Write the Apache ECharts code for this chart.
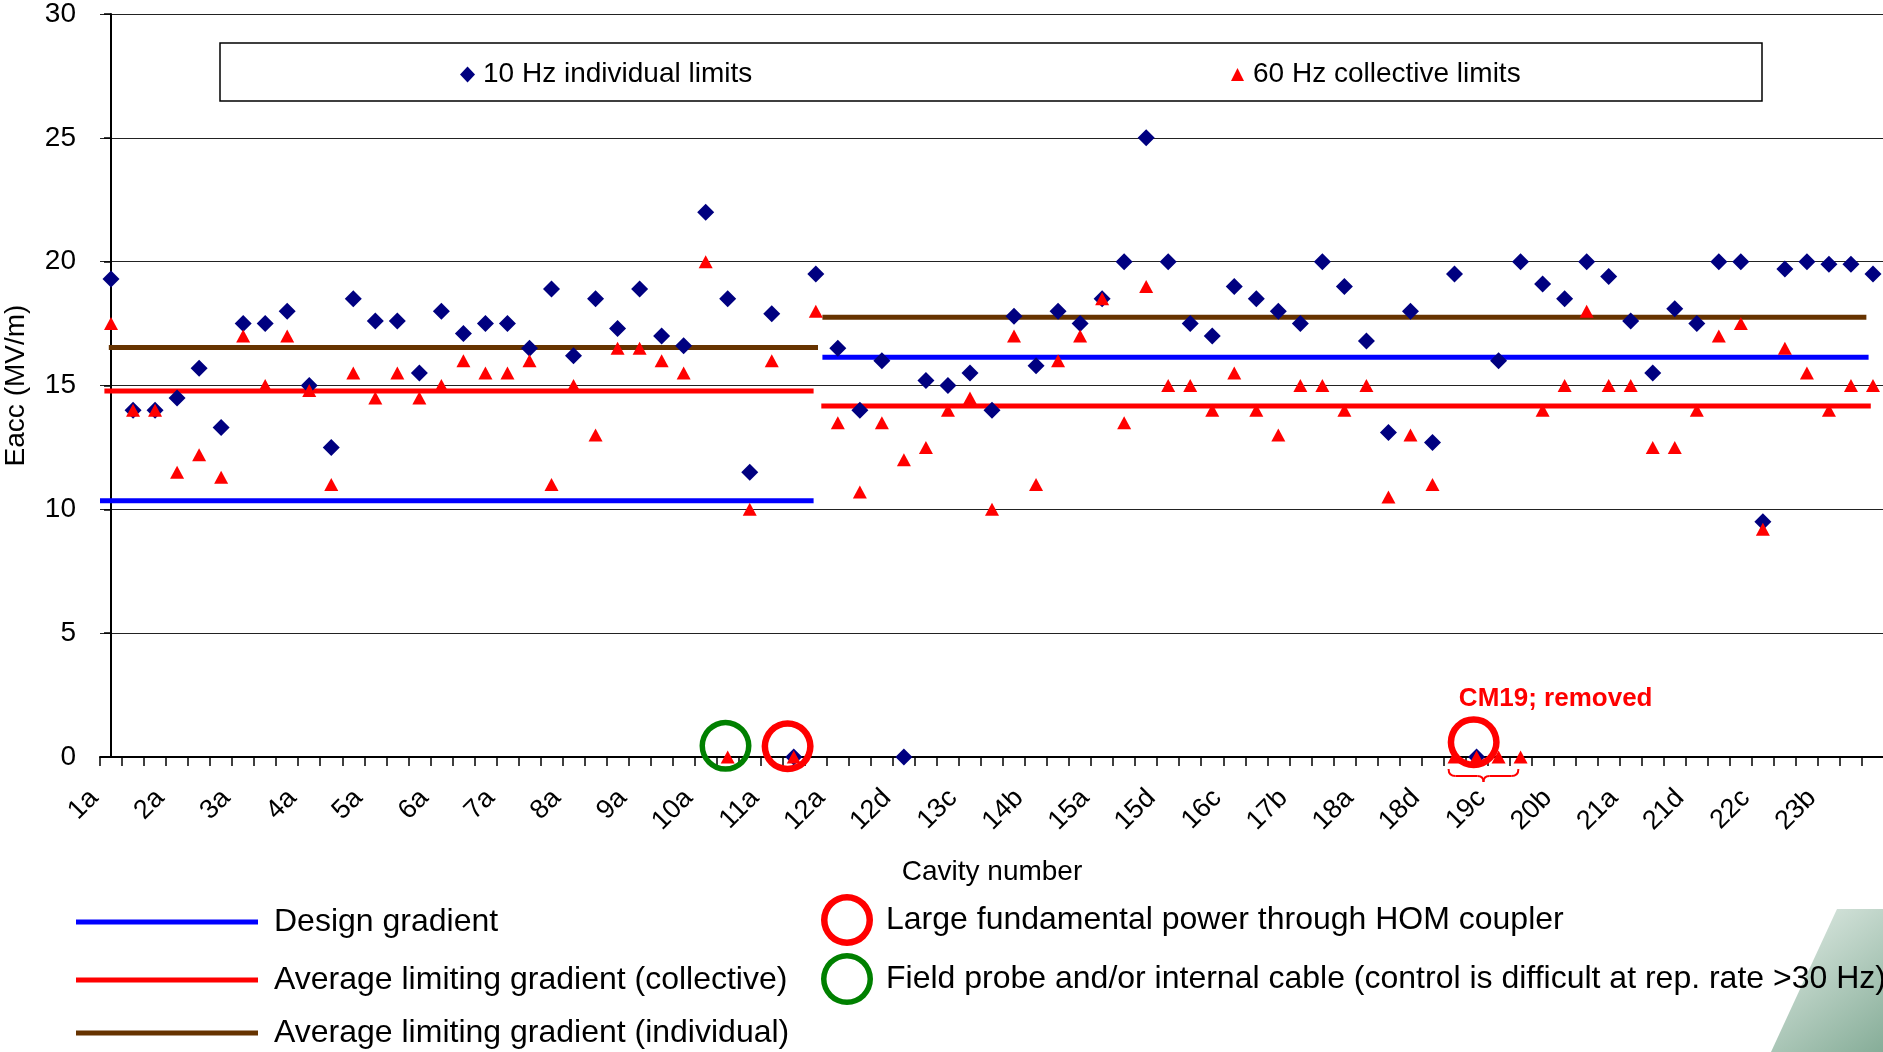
<!DOCTYPE html>
<html><head><meta charset="utf-8">
<script src="https://cdn.jsdelivr.net/npm/echarts@6/dist/echarts.min.js"></script>
<style>html,body{margin:0;padding:0;background:#fff}#c{width:1883px;height:1052px}</style>
</head><body><div id="c"></div>
<script>
// ---------------- data ----------------
const categories = [
 '1a','1b','1c','2a','2b','2c','3a','3b','3c','4a','4b','4c','5a','5b','5c','6a','6b','6c',
 '7a','7b','7c','8a','8b','8c','9a','9b','9c','10a','10b','10c','11a','11b','11c',
 '12a','12b','12c','12d','13a','13b','13c','13d','14a','14b','14c','14d','15a','15b','15c','15d',
 '16a','16b','16c','16d','17a','17b','17c','17d','18a','18b','18c','18d','19a','19b','19c','19d',
 '20a','20b','20c','20d','21a','21b','21c','21d','22a','22b','22c','22d','23a','23b','23c','23d'];
const individual10Hz = [
 19.3,14.0,14.0,14.5,15.7,13.3,17.5,17.5,18.0,15.0,12.5,18.5,17.6,17.6,15.5,18.0,17.1,17.5,
 17.5,16.5,18.9,16.2,18.5,17.3,18.9,17.0,16.6,22.0,18.5,11.5,17.9,0,19.5,
 16.5,14.0,16.0,0,15.2,15.0,15.5,14.0,17.8,15.8,18.0,17.5,18.5,20.0,25.0,20.0,
 17.5,17.0,19.0,18.5,18.0,17.5,20.0,19.0,16.8,13.1,18.0,12.7,19.5,0,16.0,20.0,
 19.1,18.5,20.0,19.4,17.6,15.5,18.1,17.5,20.0,20.0,9.5,19.7,20.0,19.9,19.9,19.5];
const collective60Hz = [
 17.5,14.0,14.0,11.5,12.2,11.3,17.0,15.0,17.0,14.8,11.0,15.5,14.5,15.5,14.5,15.0,16.0,15.5,
 15.5,16.0,11.0,15.0,13.0,16.5,16.5,16.0,15.5,20.0,0,10.0,16.0,0,18.0,
 13.5,10.7,13.5,12.0,12.5,14.0,14.5,10.0,17.0,11.0,16.0,17.0,18.5,13.5,19.0,15.0,
 15.0,14.0,15.5,14.0,13.0,15.0,15.0,14.0,15.0,10.5,13.0,11.0,0,0,0,0,
 14.0,15.0,18.0,15.0,15.0,12.5,12.5,14.0,17.0,17.5,9.2,16.5,15.5,14.0,15.0,15.0];
// average lines: [start position, end position, value] (positions in category units)
const designGradient = [[-0.5, 31.9, 10.35], [32.3, 79.8, 16.14]];
const avgCollective  = [[-0.3, 31.9, 14.78], [32.25, 79.9, 14.17]];
const avgIndividual  = [[-0.1, 32.1, 16.53], [32.3, 79.7, 17.76]];
// annotation circles [position, value]
const homCircles   = [[30.72, 0.43], [61.87, 0.6]];
const probeCircles = [[27.9, 0.45]];
const cm19Range = [60.73, 63.9];
const yTicks = {min: 0, max: 30, interval: 5};
const lineLegendNames = ['Design gradient', 'Average limiting gradient (collective)', 'Average limiting gradient (individual)'];

// ---------------- chart ----------------
const FONT = '"Liberation Sans", Arial, sans-serif';
const chart = echarts.init(document.getElementById('c'), null, {renderer: 'canvas'});

function segSeries(name, segs, color) {
  return segs.map(s => ({
    type: 'line', name: name, xAxisIndex: 1, yAxisIndex: 0,
    data: [[s[0], s[2]], [s[1], s[2]]],
    symbol: 'none', color: color, silent: true, z: 2,
    lineStyle: {width: 5, color: color, opacity: 1}
  }));
}
function ring(outer, inner) {
  return 'path://M0,' + (-outer) + 'A' + outer + ',' + outer + ' 0 1,1 0,' + outer +
          'A' + outer + ',' + outer + ' 0 1,1 0,' + (-outer) + 'Z' +
          'M0,' + (-inner) + 'A' + inner + ',' + inner + ' 0 1,0 0,' + inner +
         'A' + inner + ',' + inner + ' 0 1,0 0,' + (-inner) + 'Z';
}

const series = [
  {type: 'scatter', name: '10 Hz individual limits', xAxisIndex: 0, yAxisIndex: 0,
   data: individual10Hz, symbol: 'diamond', symbolSize: [17, 17],
   itemStyle: {color: '#000080', opacity: 1}, z: 3},
  {type: 'scatter', name: '60 Hz collective limits', xAxisIndex: 0, yAxisIndex: 0,
   data: collective60Hz, symbol: 'triangle', symbolSize: [14, 13],
   itemStyle: {color: '#ff0000', opacity: 1}, z: 3},
  ...segSeries(lineLegendNames[0], designGradient, '#0000ff'),
  ...segSeries(lineLegendNames[1], avgCollective, '#ff0000'),
  ...segSeries(lineLegendNames[2], avgIndividual, '#663300'),
  {type: 'scatter', name: 'Large fundamental power through HOM coupler', xAxisIndex: 1, yAxisIndex: 0,
   data: homCircles.map((p, i) => i === 1 ? {value: p, label: {
       show: true, position: 'top', distance: 5, offset: [82, 1],
       formatter: 'CM19; removed', color: '#ff0000', fontFamily: FONT, fontSize: 26, fontWeight: 'bold'}} : p),
   symbol: ring(26, 19.5), symbolSize: 52, silent: true, z: 5, color: '#ff0000',
   itemStyle: {color: '#ff0000', opacity: 1}},
  {type: 'scatter', name: 'Field probe and/or internal cable (control is difficult at rep. rate >30 Hz)',
   xAxisIndex: 1, yAxisIndex: 0, data: probeCircles,
   symbol: ring(26, 20.5), symbolSize: 52, silent: true, z: 5, color: '#008000',
   itemStyle: {color: '#008000', opacity: 1}}
];

const lineLegendTops = [905, 963, 1016];
const lineLegends = lineLegendNames.map((n, i) => ({
  data: [n], left: 76, top: lineLegendTops[i], padding: 0,
  icon: 'rect', itemWidth: 182, itemHeight: 5,
  textStyle: {fontFamily: FONT, fontSize: 32, color: '#000', lineHeight: 34, padding: [0, 0, 0, 11]}
}));

const option = {
  animation: false,
  backgroundColor: '#ffffff',
  textStyle: {fontFamily: FONT, color: '#000'},
  grid: {left: 100, right: -1, top: 14, bottom: 295, containLabel: false, outerBoundsMode: 'none'},
  xAxis: [
    {type: 'category', data: categories, boundaryGap: true,
     name: 'Cavity number', nameLocation: 'middle', nameGap: 101,
     nameTextStyle: {fontFamily: FONT, fontSize: 28, color: '#000'},
     axisLine: {lineStyle: {color: '#000', width: 2}},
     axisTick: {show: true, interval: 0, length: 9, lineStyle: {color: '#000', width: 1.5}},
     axisLabel: {interval: 2, rotate: 45, margin: 20, padding: [0, 24, 0, 0],
       fontFamily: FONT, fontSize: 27, color: '#000'},
     splitLine: {show: false}},
    {type: 'value', min: -0.5, max: 80.5, show: false, splitLine: {show: false}}
  ],
  yAxis: [{type: 'value', min: yTicks.min, max: yTicks.max, interval: yTicks.interval,
    name: 'Eacc (MV/m)', nameLocation: 'middle', nameGap: 70, nameRotate: 90,
    nameTextStyle: {fontFamily: FONT, fontSize: 28, color: '#000'},
    axisLine: {show: true, lineStyle: {color: '#000', width: 2}},
    axisTick: {show: true, length: 7, lineStyle: {color: '#000', width: 1.5}},
    axisLabel: {margin: 24, fontFamily: FONT, fontSize: 28, color: '#000'},
    splitLine: {show: true, lineStyle: {color: '#222', width: 1.2}}}],
  legend: [
    {data: ['10 Hz individual limits'], left: 460, top: 60, padding: 0,
     itemWidth: 15, itemHeight: 16, itemGap: 0,
     textStyle: {fontFamily: FONT, fontSize: 28, color: '#000', lineHeight: 29, padding: [0, 0, 0, 3]}},
    {data: ['60 Hz collective limits'], left: 1231, top: 60, padding: 0,
     itemWidth: 13, itemHeight: 13,
     textStyle: {fontFamily: FONT, fontSize: 28, color: '#000', lineHeight: 29, padding: [0, 0, 0, 4]}},
    ...lineLegends,
    {data: ['Large fundamental power through HOM coupler',
            'Field probe and/or internal cable (control is difficult at rep. rate >30 Hz)'],
     orient: 'vertical', left: 821, top: 894, padding: 0, itemGap: 7,
     itemWidth: 52, itemHeight: 52,
     textStyle: {fontFamily: FONT, fontSize: 32, color: '#000', lineHeight: 34, padding: [0, 0, 0, 8]}}
  ],
  graphic: [
    {id: 'legendBox', type: 'rect', z: 0, silent: true,
     shape: {x: 220, y: 43, width: 1542, height: 58},
     style: {fill: '#fff', stroke: '#000', lineWidth: 1.5}},
    {id: 'deco', type: 'polygon', z: 0, silent: true,
     shape: {points: [[1771, 1052], [1837, 909], [1883, 909], [1883, 1052]]},
     style: {fill: new echarts.graphic.LinearGradient(0, 0, 1, 1, [
       {offset: 0, color: '#e4eee8'}, {offset: 1, color: '#86ad98'}])}}
  ],
  series: series
};
chart.setOption(option);

// curly brace under CM19, positioned through the axis scale
const a = chart.convertToPixel({xAxisIndex: 1, yAxisIndex: 0}, [cm19Range[0], 0]);
const b = chart.convertToPixel({xAxisIndex: 1, yAxisIndex: 0}, [cm19Range[1], 0]);
const x0 = a[0], x1 = b[0], y0 = a[1], xm = (x0 + x1) / 2;
const st = {fill: 'none', stroke: '#ff0000', lineWidth: 2};
chart.setOption({graphic: [
  {id: 'br1', type: 'bezierCurve', z: 10, silent: true, style: st,
   shape: {x1: x0, y1: y0 + 12, x2: x0 + 7, y2: y0 + 19, cpx1: x0, cpy1: y0 + 19}},
  {id: 'br2', type: 'line', z: 10, silent: true, style: st,
   shape: {x1: x0 + 7, y1: y0 + 19, x2: xm - 6, y2: y0 + 19}},
  {id: 'br3', type: 'bezierCurve', z: 10, silent: true, style: st,
   shape: {x1: xm - 6, y1: y0 + 19, x2: xm, y2: y0 + 25, cpx1: xm, cpy1: y0 + 19}},
  {id: 'br4', type: 'bezierCurve', z: 10, silent: true, style: st,
   shape: {x1: xm, y1: y0 + 25, x2: xm + 6, y2: y0 + 19, cpx1: xm, cpy1: y0 + 19}},
  {id: 'br5', type: 'line', z: 10, silent: true, style: st,
   shape: {x1: xm + 6, y1: y0 + 19, x2: x1 - 7, y2: y0 + 19}},
  {id: 'br6', type: 'bezierCurve', z: 10, silent: true, style: st,
   shape: {x1: x1 - 7, y1: y0 + 19, x2: x1, y2: y0 + 12, cpx1: x1, cpy1: y0 + 19}}
]});
</script></body></html>
